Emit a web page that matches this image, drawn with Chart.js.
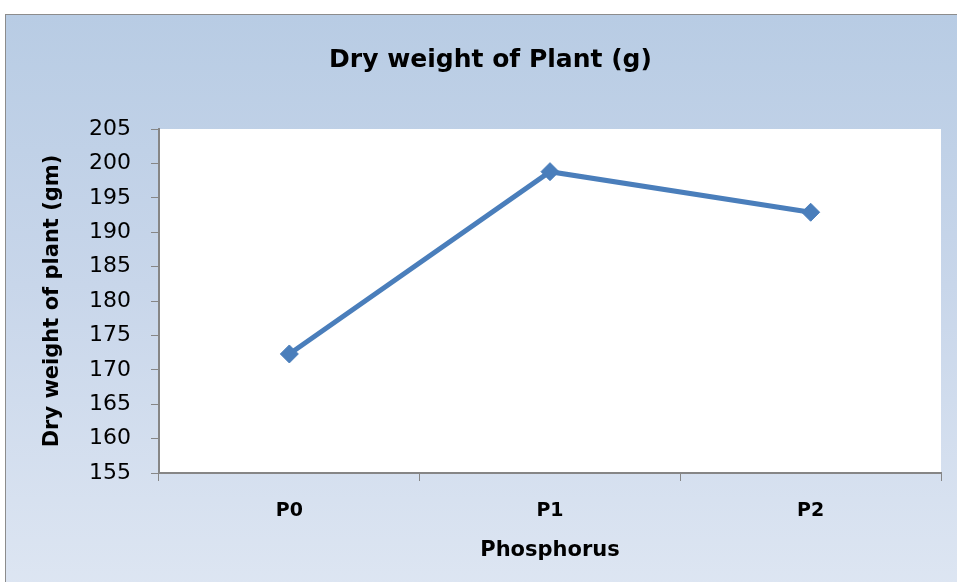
<!DOCTYPE html>
<html>
<head>
<meta charset="utf-8">
<script src="https://cdn.jsdelivr.net/npm/chart.js@4.4.1/dist/chart.umd.min.js"></script>
<style>
    html, body { margin: 0; padding: 0; width: 957px; height: 582px; overflow: hidden; background: #ffffff; }
    #box {
        position: absolute; left: 5px; top: 14px; width: 1000px; height: 600px;
        border: 1px solid #8c8c8c;
        background: linear-gradient(to bottom, #b8cce4 0%, #c8d6ea 45%, #dfe7f3 100%);
    }
    #wrap { position: absolute; left: 0; top: 0; width: 957px; height: 582px; }
</style>
</head>
<body>
<div id="box"></div>
<div id="wrap"><canvas id="chart" width="957" height="582"></canvas></div>
<script>
const categories = ['P0', 'P1', 'P2'];
const dryWeight = [172.3, 198.8, 192.9];
const yMin = 155;
const yMax = 205;
const yStep = 5;

const FONT = "'DejaVu Sans', sans-serif";

// Paint the plot area white
const plotBackground = {
    id: 'plotBackground',
    beforeDraw(chart) {
        const { ctx, chartArea } = chart;
        ctx.save();
        ctx.fillStyle = '#ffffff';
        ctx.fillRect(chartArea.left, chartArea.top, chartArea.right - chartArea.left, chartArea.bottom - chartArea.top);
        ctx.restore();
    }
};

const ctx = document.getElementById('chart').getContext('2d');
new Chart(ctx, {
    type: 'line',
    data: {
        labels: categories,
        datasets: [{
            label: 'Dry weight',
            data: dryWeight,
            borderColor: '#4a7ebb',
            backgroundColor: '#4a7ebb',
            borderWidth: 5,
            pointStyle: 'rectRot',
            pointRadius: 9,
            pointBorderWidth: 1,
            tension: 0,
        }],
    },
    options: {
        responsive: false,
        animation: false,
        layout: { padding: { left: 40, right: 16, top: 0, bottom: 0 } },
        plugins: {
            legend: { display: false },
            tooltip: { enabled: false },
            title: {
                display: true,
                text: 'Dry weight of Plant (g)',
                color: '#000000',
                font: { family: FONT, size: 25, weight: 'bold', lineHeight: 1.2 },
                padding: { top: 45, bottom: 54 },
            },
        },
        scales: {
            x: {
                offset: true,
                grid: { offset: true, drawOnChartArea: false, drawTicks: true, tickLength: 8, color: '#868686' },
                border: { color: '#868686', width: 2 },
                ticks: { color: '#000000', padding: 19, font: { family: FONT, size: 19, weight: 'bold' } },
                title: {
                    display: true,
                    text: 'Phosphorus',
                    color: '#000000',
                    font: { family: FONT, size: 21, weight: 'bold', lineHeight: 1.2 },
                    padding: { top: 4, bottom: 19 },
                },
                afterFit(scale) { scale.height = 109; },
            },
            y: {
                min: yMin,
                max: yMax,
                grid: { drawOnChartArea: false, drawTicks: true, tickLength: 8, color: '#868686' },
                border: { color: '#868686', width: 2 },
                ticks: { stepSize: yStep, color: '#000000', padding: 20, font: { family: FONT, size: 22 } },
                title: {
                    display: true,
                    text: 'Dry weight of plant (gm)',
                    color: '#000000',
                    font: { family: FONT, size: 21, weight: 'bold', lineHeight: 1.2 },
                    padding: { top: 0, bottom: 4 },
                },
                afterFit(scale) { scale.width = 119; },
            },
        },
    },
    plugins: [plotBackground],
});
</script>
</body>
</html>
